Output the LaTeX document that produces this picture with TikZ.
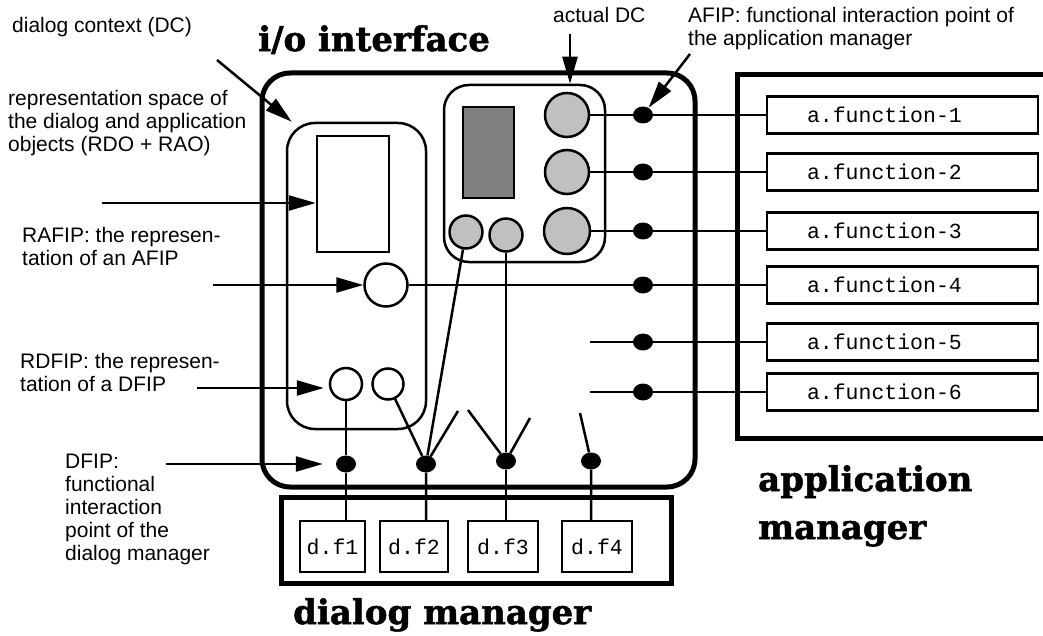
\documentclass[tikz,border=0pt]{standalone}
\usepackage{fontspec}
\setmainfont{Liberation Sans}
\newfontfamily\titlefont{DejaVu Serif}[FakeStretch=1.0, FakeBold=1.5]
\newfontfamily\codefont{Liberation Mono}
\usetikzlibrary{arrows.meta, shapes.geometric, positioning}

\definecolor{lightgrey}{HTML}{C0C0C0}
\definecolor{darkgrey}{HTML}{808080}

\tikzset{
	heavybox/.style={draw, line width=5pt, inner sep=0pt},
	roundbox/.style={draw, line width=2.5pt, inner sep=0pt},
	plainbox/.style={draw, line width=2.5pt, inner sep=0pt},
	funcbox/.style={draw, line width=2.5pt, minimum height=37pt,
		inner xsep=40pt, text width=191pt, align=left,
		font=\codefont\fontsize{21.5}{24}\selectfont},
	dfbox/.style={draw, line width=2.5pt, minimum height=51pt, inner sep=0pt,
		font=\codefont\fontsize{21.5}{24}\selectfont},
	port/.style={circle, draw, line width=2.5pt, fill=lightgrey, inner sep=0pt},
	fip/.style={ellipse, fill=black, minimum width=20pt, minimum height=17pt, inner sep=0pt},
	wire/.style={line width=2.5pt},
	pointer/.style={line width=2.5pt, -{Triangle[length=27pt,width=15pt]}},
	note/.style={anchor=north west, align=left, inner sep=0pt,
		font=\fontsize{21}{23}\selectfont},
	heading/.style={anchor=north west, align=left, inner sep=0pt,
		font=\titlefont\bfseries\fontsize{34}{48}\selectfont}
}

\begin{document}
\begin{tikzpicture}[x=1pt, y=-1pt]
\useasboundingbox (0,0) rectangle (1043,636);

% the three managers
\node[heavybox, rounded corners=28pt, minimum width=433pt, minimum height=414pt] (io) at (478.5,280) {};
\node[heavybox, minimum width=330pt, minimum height=363pt] (app) at (902,256.5) {};
\node[heavybox, minimum width=390pt, minimum height=86pt] (dm) at (476,540) {};

% dialog context and actual DC
\node[roundbox, rounded corners=28pt, minimum width=139pt, minimum height=306pt] (rsp) at (356.5,276) {};
\node[plainbox, minimum width=72pt, minimum height=116pt] (obj) at (353,194) {};
\node[roundbox, rounded corners=25pt, minimum width=161pt, minimum height=177pt] (adc) at (524.5,173.5) {};
\node[plainbox, fill=darkgrey, minimum width=51pt, minimum height=91pt] (view) at (488.5,152.5) {};

% representations of the interaction points
\node[port, minimum size=44pt] (g1) at (567,115) {};
\node[port, minimum size=44pt] (g2) at (567,172) {};
\node[port, minimum size=46pt] (g3) at (567,231) {};
\node[port, minimum size=33pt] (sg1) at (466,232) {};
\node[port, minimum size=33pt] (sg2) at (506,235) {};
\node[port, fill=white, minimum size=43pt] (rafip) at (386,285) {};
\node[port, fill=white, minimum size=32pt] (r1) at (346,384) {};
\node[port, fill=white, minimum size=31pt] (r2) at (388,384) {};

% application functions
\foreach \i/\y in {1/115, 2/172, 3/231, 4/285, 5/342, 6/392} {
	\node[fip] (p\i) at (643,\y) {};
	\node[funcbox] (f\i) at (902.5,\y) {a.function-\i};
}

% dialog functions
\node[fip] (q1) at (346,464) {};
\node[fip] (q2) at (426,464) {};
\node[fip] (q3) at (506,461) {};
\node[fip] (q4) at (591,461) {};
\node[dfbox, minimum width=65pt] (df1) at (332.5,546.5) {d.f1};
\node[dfbox, minimum width=68pt] (df2) at (414,546.5) {d.f2};
\node[dfbox, minimum width=70pt] (df3) at (503,546.5) {d.f3};
\node[dfbox, minimum width=70pt] (df4) at (597,546.5) {d.f4};

% loose ends
\coordinate (s5) at (590,342);
\coordinate (s6) at (590,392);
\coordinate (s2) at (458,411);
\coordinate (s3a) at (468,410);
\coordinate (s3b) at (530,418);
\coordinate (s4) at (580,413);

% connections to the application manager
\draw[wire] (g1) -- (p1) -- (f1.west);
\draw[wire] (g2) -- (p2) -- (f2.west);
\draw[wire] (g3) -- (p3) -- (f3.west);
\draw[wire] (rafip) -- (p4) -- (f4.west);
\draw[wire] (s5) -- (p5) -- (f5.west);
\draw[wire] (s6) -- (p6) -- (f6.west);

% connections to the dialog manager
\draw[wire] (r1) -- (q1) -- (q1 |- df1.north);
\draw[wire] (r2) -- (q2) -- (q2 |- df2.north);
\draw[wire] (sg1) -- (q2) -- (s2);
\draw[wire] (sg2) -- (q3) -- (q3 |- df3.north);
\draw[wire] (s3a) -- (q3) -- (s3b);
\draw[wire] (s4) -- (q4) -- (q4 |- df4.north);

% titles
\node[heading] (iotitle) at (258,25) {i/o interface};
\node[heading] (dmtitle) at (293,598) {dialog manager};
\node[heading] (amtitle) at (758,465) {application\\manager};

% explanations
\node[note] (dclbl) at (12,17) {dialog context (DC)};
\node[note] (rsplbl) at (8,90) {representation space of\\the dialog and application\\objects (RDO + RAO)};
\node[note] (rafiplbl) at (22,227) {RAFIP: the represen-\\tation of an AFIP};
\node[note] (rdfiplbl) at (20,353) {RDFIP: the represen-\\tation of a DFIP};
\node[note] (dfiplbl) at (65,454) {DFIP:\\functional\\interaction\\point of the\\dialog manager};
\node[note] (adclbl) at (553,7) {actual DC};
\node[note] (afiplbl) at (688,7) {AFIP: functional interaction point of\\the application manager};

\coordinate (dcstart) at (217,60);
\coordinate (objstart) at (102,203);
\coordinate (rafipstart) at (213,285);
\coordinate (rdstart) at (197,388);
\coordinate (dfstart) at (166,464);
\coordinate (adcstart) at (570,34);
\coordinate (afstart) at (690,54);

\draw[pointer] (dcstart) -- ([xshift=6pt]rsp.north west);
\draw[pointer] (objstart) -- (objstart -| obj.west);
\draw[pointer] (rafipstart) -- (rafip);
\draw[pointer, shorten >=5pt] (rdstart) -- (rdstart -| r1.west);
\draw[pointer] (dfstart) -- ([xshift=-13pt]q1.west);
\draw[pointer] (adcstart) -- (adcstart |- adc.north);
\draw[pointer] (afstart) -- (p1);
\end{tikzpicture}
\end{document}
